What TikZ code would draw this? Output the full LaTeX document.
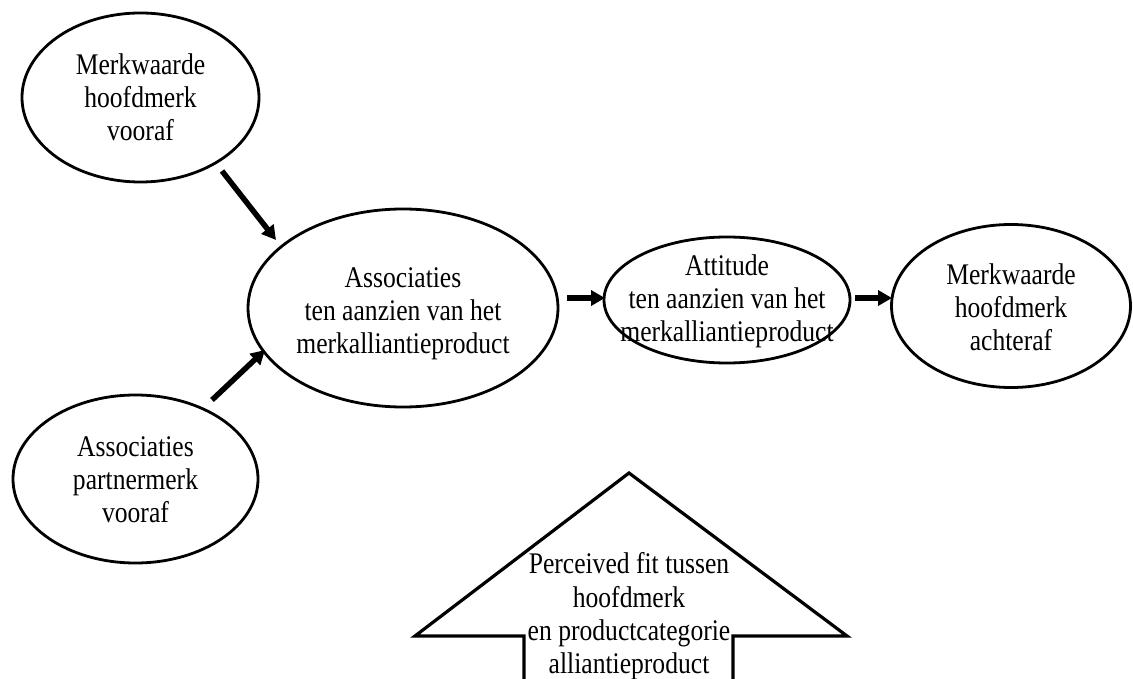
\documentclass[tikz,border=0pt]{standalone}
\usepackage{fontspec}
\setmainfont{Liberation Serif}
\usetikzlibrary{shapes.geometric,arrows.meta}
\newcommand\stxt[1]{\scalebox{1}[1.17]{\begin{tabular}{@{}c@{}}#1\end{tabular}}}
\begin{document}
\begin{tikzpicture}[x=1pt,y=-1pt,
  every node/.style={font=\fontsize{25.6}{28.3}\selectfont, inner sep=0pt},
  oval/.style={ellipse, draw, line width=2.8pt},
  txt/.style={},
  conn/.style={line width=5.5pt, -{Triangle[length=14pt,width=15pt]}},
  block/.style={draw, line width=3.2pt, line join=miter}]
\useasboundingbox (0,0) rectangle (1133,679);
\node[oval, minimum width=237pt, minimum height=169pt] (e1) at (140.5,97.5) {};
\node[txt] (t1) at (140.5,101) {\stxt{Merkwaarde\\hoofdmerk\\vooraf}};
\node[oval, minimum width=310pt, minimum height=198pt] (e2) at (403,308) {};
\node[txt] (t2) at (403,314) {\stxt{Associaties\\ten aanzien van het\\merkalliantieproduct}};
\node[oval, minimum width=246pt, minimum height=126pt] (e3) at (727,300) {};
\node[txt] (t3) at (727,302) {\stxt{Attitude\\ten aanzien van het\\merkalliantieproduct}};
\node[oval, minimum width=239pt, minimum height=163pt] (e4) at (1011,306) {};
\node[txt] (t4) at (1011,311) {\stxt{Merkwaarde\\hoofdmerk\\achteraf}};
\node[oval, minimum width=245pt, minimum height=168pt] (e5) at (135.5,479) {};
\node[txt] (t5) at (135.5,483) {\stxt{Associaties\\partnermerk\\vooraf}};
\coordinate (a1s) at (222,171);
\coordinate (a1e) at (276,240);
\coordinate (a2s) at (212,400);
\coordinate (a2e) at (265,350);
\coordinate (a3s) at (567,298);
\coordinate (a3e) at (605,298);
\coordinate (a4s) at (855,298);
\coordinate (a4e) at (892,298);
\draw[conn] (a1s) -- (a1e);
\draw[conn] (a2s) -- (a2e);
\draw[conn] (a3s) -- (a3e);
\draw[conn] (a4s) -- (a4e);
\draw[block] (524,690) -- (524,636) -- (415,636) -- (629,473) -- (847,636) -- (733,636) -- (733,690);
\node (fit) at (629,617) {\stxt{Perceived fit tussen\\hoofdmerk\\en productcategorie\\alliantieproduct}};
\end{tikzpicture}
\end{document}
